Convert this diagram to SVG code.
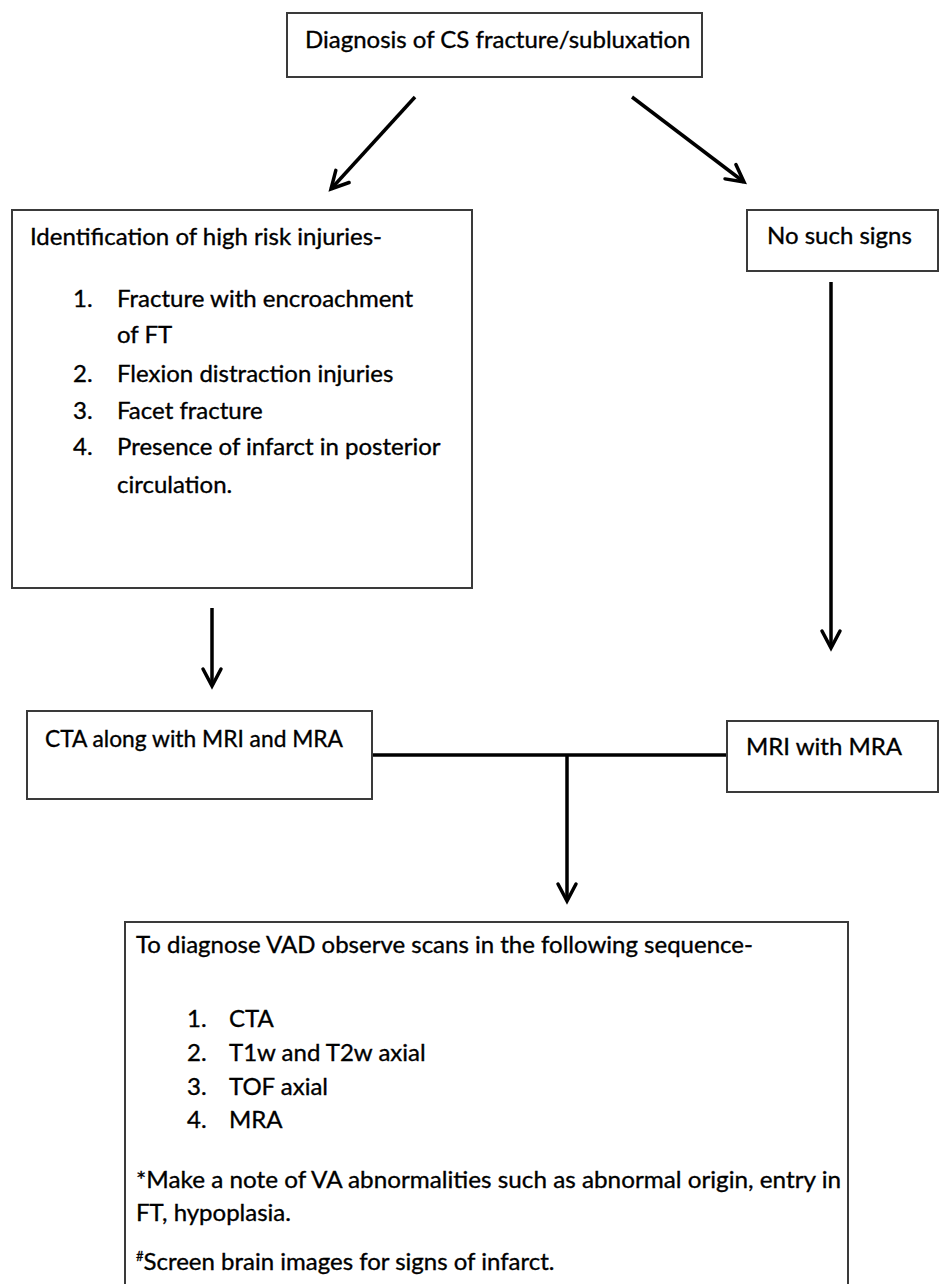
<svg xmlns="http://www.w3.org/2000/svg" width="940" height="1284" viewBox="0 0 940 1284">
<defs>
<style>
.box{fill:#fff;stroke:#3a3a3a;stroke-width:2}
.t{font-family:Lato,"Open Sans","Liberation Sans",sans-serif;font-size:24px;fill:#000;stroke:#000;stroke-width:0.35}
.ln{stroke:#000;stroke-width:3.5;fill:none}
.arr{stroke:#000;stroke-width:3.5;fill:none;marker-end:url(#ah)}
</style>
<marker id="ah" markerUnits="userSpaceOnUse" viewBox="-22 -12 26 24" markerWidth="26" markerHeight="24" refX="0" refY="0" orient="auto">
<path d="M-17,-9 L0,0 L-17,9" fill="none" stroke="#000" stroke-width="3.5" stroke-linecap="round" stroke-linejoin="miter"/>
</marker>
</defs>
<rect width="940" height="1284" fill="#fff"/>

<g id="connectors">
<line class="arr" x1="415" y1="97" x2="331" y2="189"/>
<line class="arr" x1="632" y1="97" x2="744" y2="182"/>
<line class="arr" x1="212" y1="608" x2="212" y2="686"/>
<line class="arr" x1="831" y1="282" x2="831" y2="648"/>
<line class="ln" x1="372" y1="755" x2="727" y2="755"/>
<line class="arr" x1="567" y1="755" x2="567" y2="901"/>
</g>

<g id="n-diagnosis">
<rect class="box" x="287" y="13" width="415" height="64"/>
<text class="t" x="305" y="48">Diagnosis of CS fracture/subluxation</text>
</g>

<g id="n-highrisk">
<rect class="box" x="12" y="210" width="460" height="378"/>
<text class="t" x="30" y="245">Identification of high risk injuries-</text>
<text class="t" x="73" y="307">1.</text><text class="t" x="117" y="307">Fracture with encroachment</text>
<text class="t" x="117" y="343">of FT</text>
<text class="t" x="73" y="382">2.</text><text class="t" x="117" y="382">Flexion distraction injuries</text>
<text class="t" x="73" y="419">3.</text><text class="t" x="117" y="419">Facet fracture</text>
<text class="t" x="73" y="455">4.</text><text class="t" x="117" y="455">Presence of infarct in posterior</text>
<text class="t" x="117" y="493">circulation.</text>
</g>

<g id="n-nosigns">
<rect class="box" x="747" y="210" width="191" height="61"/>
<text class="t" x="767" y="244">No such signs</text>
</g>

<g id="n-cta">
<rect class="box" x="27" y="711" width="345" height="88"/>
<text class="t" x="45" y="747" textLength="298" lengthAdjust="spacingAndGlyphs">CTA along with MRI and MRA</text>
</g>

<g id="n-mri">
<rect class="box" x="727" y="721" width="211" height="71"/>
<text class="t" x="746" y="755">MRI with MRA</text>
</g>

<g id="n-vad">
<path class="box" d="M125,1300 L125,922 L848,922 L848,1300"/>
<text class="t" x="136" y="953">To diagnose VAD observe scans in the following sequence-</text>
<text class="t" x="187" y="1027">1.</text><text class="t" x="229" y="1027">CTA</text>
<text class="t" x="187" y="1061">2.</text><text class="t" x="229" y="1061">T1w and T2w axial</text>
<text class="t" x="187" y="1095">3.</text><text class="t" x="229" y="1095">TOF axial</text>
<text class="t" x="187" y="1128">4.</text><text class="t" x="229" y="1128">MRA</text>
<text class="t" x="136" y="1188" textLength="705" lengthAdjust="spacingAndGlyphs">*Make a note of VA abnormalities such as abnormal origin, entry in</text>
<text class="t" x="136" y="1221">FT, hypoplasia.</text>
<text class="t" x="136" y="1270"><tspan font-size="13" dy="-9">#</tspan><tspan dy="9">Screen brain images for signs of infarct.</tspan></text>
</g>
</svg>
